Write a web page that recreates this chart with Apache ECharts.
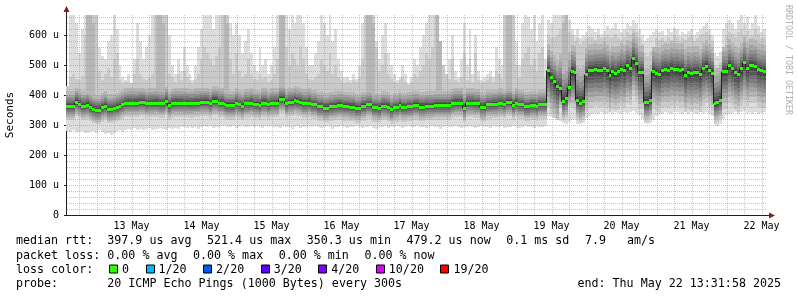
<!DOCTYPE html>
<html>
<head>
<meta charset="utf-8">
<script src="https://cdn.jsdelivr.net/npm/echarts@6/dist/echarts.min.js"></script>
<style>
html,body{margin:0;padding:0;background:#ffffff;}
#chart{width:797px;height:297px;}
</style>
</head>
<body>
<div id="chart"></div>
<script>
// ---------- time base (hours since 12 May 00:00), one value per hour ----------
const startHour = 13 + 31/60 + 58/3600;   // 12 May 13:31:58
const stepHours = 1;
const yMax = 666.67;                       // micro-seconds (u)

// ---------- median rtt per hour (u) ----------
const median = [
364,364,364,377,371,364,364,368,360,354,
351,351,359,364,354,354,357,360,364,369,
374,375,375,375,375,377,377,372,374,374,
375,375,372,372,380,366,373,375,375,375,
374,374,373,373,375,375,377,377,377,372,
381,381,375,375,369,366,366,366,374,369,
364,372,372,375,370,370,366,375,375,369,
374,374,374,387,387,372,377,377,382,379,
377,372,372,375,369,369,362,362,358,358,
362,362,364,366,366,363,363,361,361,356,
356,363,363,369,369,359,359,356,364,364,
361,352,359,359,366,359,359,362,362,366,
366,361,361,364,364,364,366,366,366,366,
366,366,372,375,375,375,358,374,374,374,
372,372,361,361,369,369,370,370,374,374,
370,377,377,366,375,369,369,362,362,366,
366,362,369,369,369,484,461,446,430,422,
381,389,427,481,476,383,374,381,471,483,
483,487,485,485,490,482,466,479,474,479,
487,482,499,491,522,506,477,477,376,376,
384,480,473,470,482,486,483,490,486,488,
483,486,467,478,473,478,476,469,489,497,
485,473,373,376,384,480,480,500,489,477,
470,489,509,490,500,500,498,486,483,481
];

// ---------- lowest ping per hour (u) ----------
const pingMin = [
280,278,282,278,276,280,274,272,276,280,275,282,
278,270,274,268,272,280,284,278,285,288,284,290,
284,288,282,286,290,284,288,286,290,288,284,290,
288,290,286,292,294,290,294,290,292,288,294,296,
292,296,290,294,292,296,298,294,292,296,290,294,
296,292,294,298,292,296,294,290,296,294,298,292,
294,290,296,292,294,288,292,296,290,294,292,296,
292,296,294,290,294,296,292,288,294,292,296,294,
290,294,292,296,294,290,294,292,296,290,288,294,
292,296,290,294,292,296,294,290,292,296,294,292,
296,292,294,290,294,296,292,294,288,292,296,294,
292,296,294,290,294,292,296,294,290,294,296,292,
294,290,296,292,294,296,290,294,292,296,294,290,
294,296,292,294,290,296,294,292,296,330,326,322,
318,315,306,305,310,318,320,305,302,306,322,330,
336,340,338,342,336,340,344,338,342,340,336,342,
340,344,346,340,332,320,306,304,308,318,330,334,
338,342,340,336,342,344,340,336,342,338,344,340,
336,342,340,344,338,330,300,298,302,320,332,336,
340,344,338,342,346,340,344,338,342,336,340,344
];

// ---------- highest ping per hour (u) ----------
const pingMax = [
430,667,667,640,540,620,667,667,667,667,667,560,
530,520,580,600,667,620,500,460,450,470,440,520,
640,580,520,560,600,667,667,667,667,667,667,600,
500,470,520,480,560,500,470,450,500,560,620,667,
667,667,620,667,667,667,667,667,640,600,640,600,
540,580,620,540,500,480,560,500,520,470,500,560,
667,667,667,667,620,667,640,667,667,640,560,500,
500,540,580,667,640,600,667,580,620,520,480,460,
460,450,470,455,500,640,667,667,667,667,580,520,
600,640,540,500,470,450,460,500,470,440,460,520,
500,560,600,640,667,667,667,667,580,500,470,520,
600,480,460,520,640,500,620,470,600,480,450,460,
470,480,460,560,520,500,667,667,667,667,580,500,
640,667,660,620,667,580,640,667,520,650,640,667,
667,667,667,667,650,620,600,620,590,600,610,630,
620,610,620,605,615,630,620,625,640,620,610,620,
640,630,650,640,620,600,580,590,600,610,620,610,
615,600,620,610,625,620,600,610,605,615,620,600,
610,620,630,640,620,600,540,530,545,620,640,650,
640,620,650,667,640,660,620,640,667,630,610,620
];

// ---------- second highest ping per hour (u) ----------
const ping19 = [
430,460,470,455,450,465,600,667,667,667,667,480,
450,470,490,460,520,540,450,440,445,445,440,470,
520,470,455,450,460,470,667,667,667,667,667,470,
460,445,470,450,480,460,450,440,455,470,520,560,
540,520,500,530,560,667,667,667,520,470,540,480,
460,470,520,470,455,450,470,455,460,445,450,470,
520,667,667,560,500,540,520,500,560,520,470,455,
450,460,470,520,500,480,540,470,500,460,450,440,
445,440,450,445,460,520,667,667,667,667,560,480,
500,540,470,455,445,440,450,460,445,435,445,470,
460,480,500,540,520,560,667,667,667,667,470,455,
520,450,445,460,540,450,520,445,540,450,440,445,
450,460,445,480,470,455,667,667,667,667,500,460,
520,540,560,500,520,480,540,560,460,600,590,595,
600,620,667,667,610,600,580,590,570,580,590,595,
595,585,600,590,595,600,590,595,605,590,585,595,
610,600,620,610,590,570,540,530,545,560,590,585,
590,580,595,585,600,595,580,590,585,595,600,580,
590,600,605,610,600,580,500,495,510,560,600,610,
605,595,610,620,600,615,595,600,620,605,590,595
];

// ---------- hours where the third highest ping was also high: [hour index, u] ----------
const ping18High = [[7,667],[8,667],[9,640],[31,667],[32,667],[33,640],[54,667],[55,640],
  [73,667],[74,667],[103,667],[104,667],[105,640],[127,667],[128,640],[151,667],[152,667],
  [170,640],[171,667]];

// ---------- inner pings relative to the median (u): pings 2..10 below, 11..18 above ----------
const innerQuiet = {lo:[-48,-40,-33,-27,-21,-15,-10,-5,-2], hi:[2,6,11,16,22,29,37,48]};
const innerBusy  = {lo:[-125,-106,-89,-74,-60,-46,-32,-18,-6], hi:[3,9,17,27,38,51,66,86]};
const innerDip   = {lo:[-65,-55,-46,-38,-30,-22,-15,-8,-3], hi:[4,12,22,35,50,68,90,115]};
const busyFromHour = 165;

// ---------- axis labels ----------
const xLabelHours = [36,60,84,108,132,156,180,204,228,252];
const xLabels = ['13 May','14 May','15 May','16 May','17 May','18 May','19 May','20 May','21 May','22 May'];

// ---------- legend ----------
const rttStats  = ['397.9 us avg','521.4 us max','350.3 us min','479.2 us now','0.1 ms sd','7.9   am/s'];
const lossStats = ['0.00 % avg','0.00 % max','0.00 % min','0.00 % now'];
const lossLabels = ['0','1/20','2/20','3/20','4/20','10/20','19/20'];
const lossColors = ['#26ff00','#00b8ff','#0059ff','#5e00ff','#7e00ff','#dd00ff','#ff0000'];
const probeText = '20 ICMP Echo Pings (1000 Bytes) every 300s';
const endText = 'end: Thu May 22 13:31:58 2025';

// ---------- styling ----------
const MONO = "'DejaVu Sans Mono', monospace";
const smokeColors = ['#dddddd','#cacaca','#b7b7b7','#a4a4a4','#919191','#7e7e7e','#6b6b6b','#585858','#454545','#323232'];
const majorGridColor = 'rgba(222,79,79,0.45)';
const minorGridColor = 'rgba(143,143,143,0.5)';

const p18Map = {};
ping18High.forEach(([i, v]) => { p18Map[i] = v; });
const nSteps = median.length;
const endHour = startHour + nSteps * stepHours;

function pingSet(i) {
  const m = median[i];
  const reg = i < busyFromHour ? innerQuiet : (m < 430 ? innerDip : innerBusy);
  const lo = [pingMin[i]].concat(reg.lo.map(o => m + o));
  for (let k = 1; k < lo.length; k++) lo[k] = Math.max(lo[k], lo[k - 1]);
  const top = pingMax[i];
  const q19 = Math.max(Math.min(ping19[i], top), m);
  const q18 = p18Map[i] !== undefined ? p18Map[i] : m + reg.hi[7];
  const hi = reg.hi.slice(0, 7).map(o => m + o).concat([q18, q19, top]);
  for (let k = hi.length - 2; k >= 0; k--) hi[k] = Math.min(hi[k], hi[k + 1]);
  for (let k = 0; k < hi.length; k++) hi[k] = Math.max(hi[k], lo[lo.length - 1]);
  return {lo, hi};
}

const stepData = median.map((m, i) => [startHour + (i + 0.5) * stepHours, m, i]);

function renderSmoke(params, api) {
  const i = api.value(2);
  const x0 = Math.round(api.coord([startHour + i * stepHours, 0])[0]);
  const x1 = Math.round(api.coord([startHour + (i + 1) * stepHours, 0])[0]);
  const {lo, hi} = pingSet(i);
  const children = [];
  for (let k = 0; k < 10; k++) {
    const yTop = Math.round(api.coord([startHour, hi[9 - k]])[1]);
    const yBot = Math.round(api.coord([startHour, lo[k]])[1]);
    if (yBot - yTop <= 0) continue;
    children.push({type: 'rect', shape: {x: x0, y: yTop, width: x1 - x0, height: yBot - yTop},
      style: {fill: smokeColors[k]}});
  }
  return {type: 'group', children};
}

function renderMedian(params, api) {
  const i = api.value(2);
  const x0 = Math.round(api.coord([startHour + i * stepHours, 0])[0]);
  const x1 = Math.round(api.coord([startHour + (i + 1) * stepHours, 0])[0]);
  const y = Math.round(api.coord([startHour, median[i]])[1]);
  const children = [];
  const pts = [[x0, y + 0.5], [x1 - 0.5, y + 0.5]];
  if (i + 1 < nSteps) {
    const yn = Math.round(api.coord([startHour, median[i + 1]])[1]);
    pts.push([x1 - 0.5, yn + 0.5]);
  }
  children.push({type: 'polyline', shape: {points: pts}, style: {stroke: '#202020', lineWidth: 1, fill: null}});
  children.push({type: 'rect', shape: {x: x0, y: y - 1, width: x1 - x0, height: 3}, style: {fill: lossColors[0]}});
  return {type: 'group', children};
}

// grid lines: [x, y, major, kind]  kind 0 horizontal, 1 vertical
const gridData = [];
for (let v = 20; v < yMax; v += 20) gridData.push([startHour, v, v % 100 === 0 ? 1 : 0, 0]);
for (let h = Math.ceil(startHour / 6) * 6; h < endHour; h += 6) gridData.push([h, 0, h % 24 === 0 ? 1 : 0, 1]);

function renderGrid(params, api) {
  const major = api.value(2), kind = api.value(3);
  const color = major ? majorGridColor : minorGridColor;
  if (kind === 0) {
    const y = Math.round(api.coord([startHour, api.value(1)])[1]) + 0.5;
    const xa = api.coord([startHour, 0])[0], xb = api.coord([endHour, 0])[0];
    return {type: 'line', shape: {x1: xa + 1, y1: y, x2: xb, y2: y}, style: {stroke: color, lineWidth: 1, lineDash: [1, 1]}};
  }
  const x = Math.round(api.coord([api.value(0), 0])[0]) + 0.5;
  const ya = api.coord([startHour, 0])[1], yb = api.coord([startHour, yMax])[1];
  return {type: 'line', shape: {x1: x, y1: ya - 1, x2: x, y2: yb}, style: {stroke: color, lineWidth: 1, lineDash: [1, 1]}};
}

const chart = echarts.init(document.getElementById('chart'), null, {renderer: 'canvas'});

const option = {
  animation: false,
  backgroundColor: '#ffffff',
  grid: {left: 66, right: 31, top: 15, bottom: 82, containLabel: false, outerBoundsMode: 'none'},
  xAxis: {
    type: 'value', min: startHour, max: endHour,
    axisLine: {show: true, onZero: false, lineStyle: {color: '#1f1f1f', width: 1}},
    axisTick: {show: false},
    axisLabel: {
      show: true, customValues: xLabelHours,
      formatter: (v) => {
        let best = 0;
        xLabelHours.forEach((h, k) => { if (Math.abs(h - v) < Math.abs(xLabelHours[best] - v)) best = k; });
        return xLabels[best];
      },
      fontFamily: MONO, fontSize: 10, color: '#000000', margin: 6
    },
    splitLine: {show: false}
  },
  yAxis: {
    type: 'value', min: 0, max: yMax, interval: 100,
    axisLine: {show: true, lineStyle: {color: '#1f1f1f', width: 1}},
    axisTick: {show: true, length: 2, lineStyle: {color: '#1f1f1f'}},
    axisLabel: {
      showMaxLabel: false,
      formatter: (v) => (v === 0 ? '0' : v + ' u'),
      fontFamily: MONO, fontSize: 10, color: '#000000', margin: 7
    },
    splitLine: {show: false},
    name: 'Seconds', nameLocation: 'middle', nameGap: 50, nameRotate: 90,
    nameTextStyle: {fontFamily: MONO, fontSize: 11, color: '#000000'}
  },
  series: [
    {type: 'custom', name: 'smoke', data: stepData, encode: {x: 0, y: 1}, clip: true, z: 1, silent: true, renderItem: renderSmoke},
    {type: 'custom', name: 'grid', data: gridData, encode: {x: 0, y: 1}, clip: false, z: 2, silent: true, renderItem: renderGrid},
    {type: 'custom', name: 'median', data: stepData, encode: {x: 0, y: 1}, clip: true, z: 3, silent: true, renderItem: renderMedian}
  ]
};
chart.setOption(option);

// ---------- decorations: arrows, legend text ----------
const origin = chart.convertToPixel({xAxisIndex: 0, yAxisIndex: 0}, [startHour, 0]);
const topRight = chart.convertToPixel({xAxisIndex: 0, yAxisIndex: 0}, [endHour, yMax]);
const ox = Math.round(origin[0]) + 0.5, oy = Math.round(origin[1]) + 0.5;
const tx = Math.round(topRight[0]), ty = Math.round(topRight[1]);
const arrowColor = '#801f1f';

const FS = 11.66, ADV = FS * 0.602, GAP = 15.5;
const lineY = [241, 255.5, 269.5, 283.5];
const col2 = 107.3;
const graphics = [];
function txt(x, y, s, extra) {
  graphics.push(Object.assign({type: 'text', x: x, y: y, silent: true,
    style: Object.assign({text: s, font: FS + 'px ' + MONO, fill: '#000000', textVerticalAlign: 'middle', textAlign: 'left'}, extra || {})}));
}
// axis extensions and arrows
graphics.push({type: 'line', silent: true, shape: {x1: ox, y1: ty, x2: ox, y2: ty - 4}, style: {stroke: '#1f1f1f', lineWidth: 1}});
graphics.push({type: 'polygon', silent: true, shape: {points: [[ox - 3, ty - 3], [ox + 3, ty - 3], [ox, ty - 9]]}, style: {fill: arrowColor}});
graphics.push({type: 'line', silent: true, shape: {x1: tx, y1: oy, x2: tx + 4, y2: oy}, style: {stroke: '#1f1f1f', lineWidth: 1}});
graphics.push({type: 'polygon', silent: true, shape: {points: [[tx + 3, oy - 3], [tx + 3, oy + 3], [tx + 9, oy]]}, style: {fill: arrowColor}});

txt(16, lineY[0], 'median rtt:');
let x = col2;
rttStats.forEach(s => { txt(x, lineY[0], s); x += s.length * ADV + GAP; });
txt(16, lineY[1], 'packet loss:');
x = col2;
lossStats.forEach(s => { txt(x, lineY[1], s); x += s.length * ADV + GAP; });
txt(16, lineY[2], 'loss color:');
x = 109;
lossLabels.forEach((s, k) => {
  graphics.push({type: 'rect', silent: true, shape: {x: Math.round(x) + 0.5, y: lineY[2] - 4.5, width: 8, height: 8},
    style: {fill: lossColors[k], stroke: '#000000', lineWidth: 1}});
  txt(x + 13, lineY[2], s);
  x += 13 + s.length * ADV + 16.5;
});
txt(16, lineY[3], 'probe:');
txt(col2, lineY[3], probeText);
txt(781, lineY[3], endText, {textAlign: 'right'});
// watermark
graphics.push({type: 'text', x: 788, y: 5, rotation: -Math.PI / 2, silent: true,
  style: {text: 'RRDTOOL / TOBI OETIKER', font: '8.3px ' + MONO, fill: '#b0b0b0', textAlign: 'left', textVerticalAlign: 'middle'}});

chart.setOption({graphic: graphics});
</script>
</body>
</html>
